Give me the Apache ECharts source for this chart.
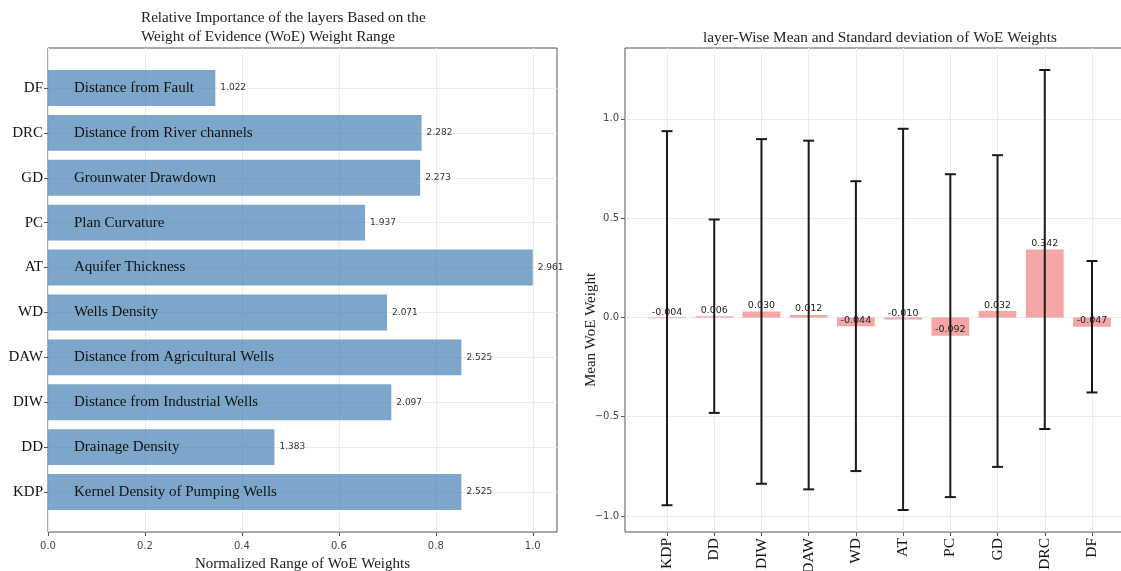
<!DOCTYPE html>
<html>
<head>
<meta charset="utf-8">
<title>WoE Weights by Layer</title>
<script src="https://cdn.jsdelivr.net/npm/echarts@6/dist/echarts.min.js"></script>
<style>
  html, body { margin: 0; padding: 0; background: #ffffff; }
  #chart { width: 1121px; height: 571px; }
</style>
</head>
<body>
<div id="chart"></div>
<script>
// Layer codes, bottom to top on the left panel and left to right on the right panel
const layerCodes = ['KDP', 'DD', 'DIW', 'DAW', 'WD', 'AT', 'PC', 'GD', 'DRC', 'DF'];
const layerNames = [
  'Kernel Density of Pumping Wells',
  'Drainage Density',
  'Distance from Industrial Wells',
  'Distance from Agricultural Wells',
  'Wells Density',
  'Aquifer Thickness',
  'Plan Curvature',
  'Grounwater Drawdown',
  'Distance from River channels',
  'Distance from Fault'
];
// WoE weight range of each layer
const weightRanges = [2.525, 1.383, 2.097, 2.525, 2.071, 2.961, 1.937, 2.273, 2.282, 1.022];
// Mean and standard deviation of the WoE weights of each layer
const meanWeights = [-0.004, 0.006, 0.030, 0.012, -0.044, -0.010, -0.092, 0.032, 0.342, -0.047];
const stdWeights  = [0.942, 0.487, 0.868, 0.878, 0.730, 0.960, 0.813, 0.785, 0.904, 0.331];
// Tick values
const rangeTicks = [0, 0.2, 0.4, 0.6, 0.8, 1.0];
const meanTicks = [-1.0, -0.5, 0.0, 0.5, 1.0];

const SERIF = "'Liberation Serif', 'Times New Roman', 'DejaVu Serif', serif";
const SANS = "'DejaVu Sans', sans-serif";
const GRID_COLOR = '#ebebeb';
const SPINE_COLOR = '#555555';

const maxRange = Math.max(...weightRanges);
const normRanges = weightRanges.map(v => v / maxRange);
const idx = layerCodes.map((_, i) => i);

// Category extent with 5% padding around the bars (bar width 0.8)
const barHalf = 0.4;
const catSpan = (layerCodes.length - 1) + 2 * barHalf;
const catMin = -barHalf - 0.05 * catSpan;
const catMax = layerCodes.length - 1 + barHalf + 0.05 * catSpan;

// Mean axis extent from the error bar ends, padded by 5%
const lows = meanWeights.map((m, i) => m - stdWeights[i]);
const highs = meanWeights.map((m, i) => m + stdWeights[i]);
const lo = Math.min(...lows), hi = Math.max(...highs);
const meanMin = lo - 0.05 * (hi - lo);
const meanMax = hi + 0.05 * (hi - lo);

const fmtMinus = v => (v < 0 ? '\u2212' : '') + Math.abs(v).toFixed(1);

const chart = echarts.init(document.getElementById('chart'), null, { renderer: 'canvas' });

const tickStyle = { show: true, length: 4, lineStyle: { color: SPINE_COLOR, width: 1 } };
const splitStyle = { show: true, lineStyle: { color: GRID_COLOR, width: 1 } };
const noLine = { show: false, onZero: false };

chart.setOption({
  backgroundColor: '#ffffff',
  animation: false,
  title: [
    {
      text: 'Relative Importance of the layers Based on the\nWeight of Evidence (WoE) Weight Range',
      left: 141, top: 9, padding: 0,
      textStyle: { fontFamily: SERIF, fontSize: 15.2, fontWeight: 'normal', color: '#222', lineHeight: 19 }
    },
    {
      text: 'layer-Wise Mean and Standard deviation of WoE Weights',
      left: 880, top: 30, padding: 0, textAlign: 'center',
      textStyle: { fontFamily: SERIF, fontSize: 15.3, fontWeight: 'normal', color: '#222' }
    }
  ],
  grid: [
    { left: 48, top: 48, width: 509, height: 484, outerBoundsMode: 'none', containLabel: false,
      show: true, borderColor: SPINE_COLOR, borderWidth: 1, backgroundColor: 'transparent' },
    { left: 625, top: 48, width: 509, height: 484, outerBoundsMode: 'none', containLabel: false,
      show: true, borderColor: SPINE_COLOR, borderWidth: 1, backgroundColor: 'transparent' }
  ],
  xAxis: [
    {
      type: 'value', gridIndex: 0, min: 0, max: 1.05,
      axisLine: noLine,
      axisTick: Object.assign({ customValues: rangeTicks }, tickStyle),
      axisLabel: { customValues: rangeTicks, formatter: v => v.toFixed(1), fontFamily: SANS, fontSize: 10, color: '#444', margin: 9 },
      splitLine: splitStyle,
      name: 'Normalized Range of WoE Weights', nameLocation: 'middle', nameGap: 25,
      nameTextStyle: { fontFamily: SERIF, fontSize: 15, color: '#222' }
    },
    {
      type: 'value', gridIndex: 1, min: catMin, max: catMax,
      axisLine: noLine,
      axisTick: Object.assign({ customValues: idx }, tickStyle),
      axisLabel: { customValues: idx, formatter: v => layerCodes[Math.round(v)], rotate: 90, fontFamily: SERIF, fontSize: 15.5, color: '#111', margin: 6 },
      splitLine: splitStyle
    }
  ],
  yAxis: [
    {
      type: 'value', gridIndex: 0, min: catMin, max: catMax,
      axisLine: noLine,
      axisTick: Object.assign({ customValues: idx }, tickStyle),
      axisLabel: { customValues: idx, formatter: v => layerCodes[Math.round(v)], fontFamily: SERIF, fontSize: 15, color: '#111', margin: 5 },
      splitLine: splitStyle
    },
    {
      type: 'value', gridIndex: 1, min: meanMin, max: meanMax,
      axisLine: noLine,
      axisTick: Object.assign({ customValues: meanTicks }, tickStyle),
      axisLabel: { customValues: meanTicks, formatter: fmtMinus, fontFamily: SANS, fontSize: 10, color: '#444', margin: 6 },
      splitLine: splitStyle
    }
  ],
  graphic: [
    {
      type: 'text', x: 591, y: 330, rotation: Math.PI / 2,
      style: { text: 'Mean WoE Weight', font: '15px ' + SERIF, fill: '#222', align: 'center', verticalAlign: 'middle' }
    }
  ],
  series: [
    {
      // Horizontal bars of normalized weight range, with layer name and raw range
      type: 'custom', xAxisIndex: 0, yAxisIndex: 0, clip: false,
      data: normRanges.map((v, i) => [v, i, weightRanges[i]]),
      encode: { x: 0, y: 1 },
      renderItem: function (params, api) {
        const v = api.value(0), i = api.value(1), raw = api.value(2);
        const s = api.coord([0, i]);
        const e = api.coord([v, i]);
        const h = Math.abs(api.size([0, 2 * barHalf])[1]);
        return {
          type: 'group',
          children: [
            { type: 'rect', shape: { x: s[0], y: s[1] - h / 2, width: e[0] - s[0], height: h },
              style: { fill: 'rgba(70,130,180,0.7)' } },
            { type: 'text', x: s[0] + 26, y: s[1],
              style: { text: layerNames[i], font: '15px ' + SERIF, fill: '#111', align: 'left', verticalAlign: 'middle' } },
            { type: 'text', x: e[0] + 5, y: e[1],
              style: { text: raw.toFixed(3), font: '9px ' + SANS, fill: '#333', align: 'left', verticalAlign: 'middle' } }
          ]
        };
      }
    },
    {
      // Mean bars with standard deviation error bars
      type: 'custom', xAxisIndex: 1, yAxisIndex: 1, clip: false,
      data: meanWeights.map((m, i) => [i, m, stdWeights[i]]),
      encode: { x: 0, y: 1 },
      renderItem: function (params, api) {
        const x = api.value(0), m = api.value(1), sd = api.value(2);
        const base = api.coord([x, 0]);
        const end = api.coord([x, m]);
        const up = api.coord([x, m + sd]);
        const dn = api.coord([x, m - sd]);
        const w = api.size([2 * barHalf, 0])[0];
        const cap = 5.5;
        const errStyle = { stroke: '#1a1a1a', lineWidth: 2 };
        return {
          type: 'group',
          children: [
            { type: 'rect', shape: { x: base[0] - w / 2, y: Math.min(base[1], end[1]), width: w, height: Math.abs(end[1] - base[1]) },
              style: { fill: 'rgba(240,128,128,0.7)' } },
            { type: 'text', x: end[0], y: end[1] - 1,
              style: { text: m.toFixed(3), font: '9.5px ' + SANS, fill: '#222', align: 'center', verticalAlign: 'bottom' } },
            { type: 'line', shape: { x1: up[0], y1: up[1], x2: dn[0], y2: dn[1] }, style: errStyle },
            { type: 'line', shape: { x1: up[0] - cap, y1: up[1], x2: up[0] + cap, y2: up[1] }, style: errStyle },
            { type: 'line', shape: { x1: dn[0] - cap, y1: dn[1], x2: dn[0] + cap, y2: dn[1] }, style: errStyle }
          ]
        };
      }
    }
  ]
});
</script>
</body>
</html>
